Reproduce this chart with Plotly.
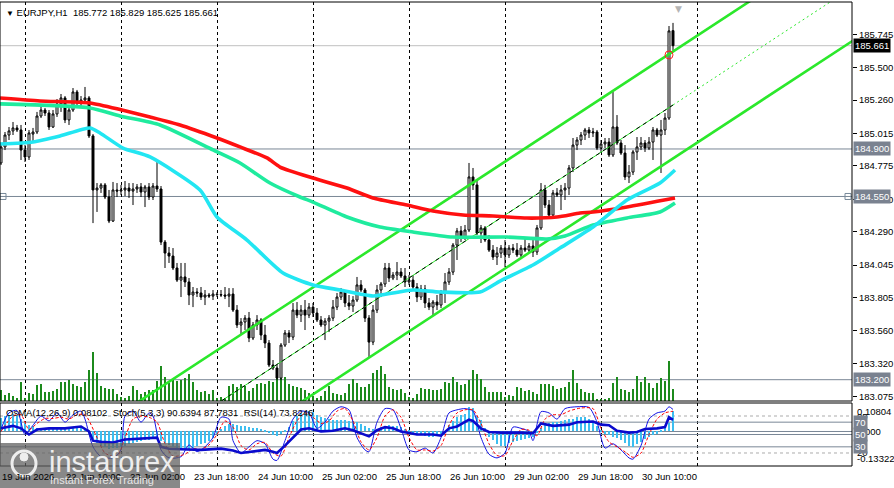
import plotly.graph_objects as go

# ---------------- DATA (EURJPY H1, bar 0 = 19 Jun 18:00) ----------------
opens = [184.797,184.915,185.003,185.033,185.055,185.040,184.892,184.841,185.010,185.025,
         185.143,185.187,185.165,185.062,185.158,185.232,185.276,185.114,185.187,185.320,
         185.239,185.261,185.276,184.996,184.598,184.612,184.635,184.546,184.369,184.598,
         184.590,184.598,184.612,184.590,184.605,184.620,184.583,184.620,184.546,184.627,
         184.605,184.214,184.133,184.111,184.023,183.934,183.957,183.920,183.824,183.846,
         183.839,183.809,183.824,183.816,183.831,183.827,183.824,183.816,183.831,183.713,
         183.603,183.625,183.654,183.507,183.603,183.640,183.529,183.470,183.308,183.286,
         183.212,183.455,183.544,183.514,183.713,183.676,183.713,183.676,183.735,183.691,
         183.640,183.603,183.632,183.654,183.735,183.809,183.846,183.765,183.743,183.787,
         183.898,183.861,183.654,183.477,183.713,183.861,183.905,184.023,183.949,183.971,
         183.993,183.964,183.920,183.934,183.883,183.809,183.868,183.765,183.735,183.772,
         183.750,183.839,183.920,183.993,184.192,184.296,184.251,184.303,184.694,184.635,
         184.281,184.318,184.229,184.155,184.104,184.133,184.170,184.119,184.170,184.155,
         184.119,184.170,184.155,184.185,184.141,184.318,184.598,184.487,184.413,184.576,
         184.561,184.598,184.612,184.760,184.929,184.966,185.003,185.040,185.018,185.025,
         184.907,184.937,184.951,184.856,185.062,184.944,184.870,184.694,184.730,184.878,
         184.915,184.944,184.907,184.951,185.040,185.003,185.040,185.128,185.772]
highs = [184.944,185.025,185.062,185.099,185.077,185.077,184.929,185.040,185.055,185.173,
         185.224,185.202,185.187,185.187,185.268,185.305,185.290,185.224,185.349,185.335,
         185.290,185.357,185.290,185.010,184.649,184.649,184.649,184.598,184.657,184.649,
         184.635,184.664,184.649,184.649,184.642,184.649,184.635,184.649,184.649,184.804,
         184.627,184.229,184.178,184.170,184.060,184.060,184.060,183.949,183.883,183.875,
         183.883,183.861,183.839,183.861,183.846,183.861,183.883,183.875,183.875,183.750,
         183.654,183.676,183.699,183.625,183.676,183.654,183.603,183.492,183.345,183.308,
         183.470,183.566,183.566,183.765,183.772,183.750,183.787,183.765,183.765,183.728,
         183.669,183.654,183.676,183.787,183.839,183.875,183.861,183.824,183.816,183.957,
         183.934,183.875,183.676,183.750,183.898,183.920,184.060,184.060,183.993,184.067,
         184.023,184.023,183.971,183.971,183.912,183.898,183.898,183.802,183.787,183.824,
         183.861,183.986,184.023,184.207,184.318,184.332,184.340,184.797,184.760,184.671,
         184.340,184.332,184.266,184.192,184.178,184.192,184.229,184.192,184.200,184.207,
         184.192,184.244,184.207,184.244,184.340,184.649,184.635,184.524,184.598,184.612,
         184.635,184.649,184.782,184.981,184.988,185.025,185.055,185.062,185.055,185.040,
         184.966,184.981,184.981,185.320,185.150,184.966,184.929,184.782,184.892,184.988,
         184.988,184.966,184.988,185.062,185.055,185.114,185.165,185.806,185.829]
lows = [184.782,184.892,184.966,185.003,185.025,184.819,184.804,184.819,184.951,185.010,
        185.128,185.143,185.040,185.055,185.136,185.173,185.091,185.077,185.173,185.224,
        185.202,185.232,184.981,184.354,184.436,184.576,184.531,184.354,184.362,184.546,
        184.561,184.553,184.539,184.487,184.576,184.546,184.472,184.524,184.524,184.583,
        184.192,184.023,184.060,184.008,183.920,183.809,183.883,183.750,183.735,183.809,
        183.787,183.750,183.802,183.787,183.809,183.809,183.794,183.735,183.699,183.581,
        183.529,183.566,183.477,183.492,183.566,183.492,183.433,183.293,183.271,183.197,
        183.197,183.441,183.470,183.492,183.654,183.625,183.566,183.654,183.662,183.625,
        183.588,183.492,183.551,183.632,183.713,183.787,183.735,183.713,183.699,183.772,
        183.846,183.625,183.367,183.455,183.691,183.809,183.883,183.920,183.934,183.934,
        183.949,183.883,183.898,183.861,183.772,183.787,183.728,183.713,183.676,183.713,
        183.728,183.765,183.898,183.971,184.082,184.214,184.229,184.288,184.598,184.266,
        184.207,184.214,184.141,184.082,184.045,184.097,184.030,184.097,184.133,184.104,
        184.104,184.141,184.133,184.104,184.119,184.303,184.465,184.399,184.399,184.546,
        184.450,184.524,184.561,184.730,184.892,184.929,184.966,184.981,184.988,184.892,
        184.878,184.907,184.841,184.841,184.929,184.856,184.671,184.649,184.708,184.819,
        184.892,184.878,184.892,184.819,184.988,184.723,185.003,185.114,185.625]
closes = [184.915,185.003,185.033,185.055,185.040,184.892,184.841,185.018,185.025,185.143,
          185.187,185.165,185.062,185.158,185.232,185.276,185.114,185.187,185.320,185.239,
          185.261,185.276,184.996,184.598,184.612,184.635,184.546,184.369,184.598,184.590,
          184.598,184.612,184.590,184.605,184.620,184.583,184.620,184.546,184.627,184.605,
          184.214,184.133,184.111,184.023,183.934,183.957,183.920,183.824,183.846,183.839,
          183.809,183.824,183.816,183.831,183.827,183.824,183.816,183.831,183.713,183.603,
          183.625,183.654,183.507,183.603,183.640,183.529,183.470,183.308,183.286,183.212,
          183.455,183.544,183.514,183.713,183.676,183.713,183.676,183.735,183.691,183.640,
          183.603,183.632,183.654,183.735,183.809,183.846,183.765,183.743,183.787,183.898,
          183.861,183.654,183.477,183.713,183.861,183.905,184.023,183.949,183.971,183.993,
          183.964,183.920,183.934,183.883,183.809,183.868,183.765,183.735,183.772,183.750,
          183.839,183.920,183.993,184.192,184.296,184.251,184.303,184.694,184.635,184.281,
          184.318,184.229,184.155,184.104,184.133,184.170,184.119,184.170,184.155,184.119,
          184.170,184.155,184.185,184.141,184.318,184.598,184.487,184.413,184.576,184.561,
          184.598,184.612,184.760,184.929,184.966,185.003,185.040,185.018,185.025,184.907,
          184.937,184.951,184.856,185.062,184.944,184.870,184.694,184.730,184.878,184.915,
          184.944,184.907,184.951,185.040,185.003,185.040,185.128,185.770,185.661]
volumes = [1070,570,830,500,330,1930,330,770,670,1600,
           1670,930,930,1000,1170,1930,1930,2070,1670,1500,
           1400,1930,3100,4900,2830,1500,1330,1170,1170,670,
           400,330,500,1500,1070,670,930,1070,1070,2000,
           3500,2400,1830,2170,2000,2070,2330,2730,1930,1070,
           930,1000,730,1070,330,400,270,1500,1730,1400,
           1730,1500,1000,1270,1670,1830,1730,2000,1870,2400,
           2930,2400,1670,1500,1400,1270,1070,830,500,330,
           500,1000,1500,830,730,600,830,1670,2170,1830,
           1400,1400,1670,2830,3070,3500,2730,1400,1170,1070,
           1170,830,400,330,670,1270,1170,1170,1070,1070,
           1170,1930,1830,2400,1930,1600,1730,2070,3070,2730,
           2170,1400,930,930,930,930,400,600,500,1400,
           1270,1000,1070,930,730,1670,1730,1670,1500,1170,
           1270,1400,1930,3100,1830,1170,930,830,830,230,
           170,230,330,1830,2400,1170,1070,930,1170,2500,
           1930,2400,1830,1270,1830,2270,2000,4000,1170]
osma = [0.052,0.060,0.066,0.068,0.062,0.048,0.034,0.026,0.020,0.015,
        0.012,0.012,0.010,0.011,0.013,0.016,0.014,0.014,0.016,0.015,
        0.014,0.014,-0.005,-0.030,-0.045,-0.055,-0.062,-0.068,-0.066,-0.064,
        -0.060,-0.055,-0.050,-0.046,-0.042,-0.038,-0.035,-0.032,-0.030,-0.028,
        -0.036,-0.045,-0.053,-0.060,-0.066,-0.070,-0.070,-0.068,-0.064,-0.058,
        -0.050,-0.043,-0.036,-0.024,-0.008,0.008,0.020,0.028,0.030,0.026,
        0.022,0.020,0.016,0.014,0.012,0.008,0.002,-0.006,-0.012,-0.016,
        -0.010,0.002,0.018,0.040,0.060,0.072,0.080,0.080,0.075,0.066,
        0.058,0.052,0.048,0.046,0.045,0.044,0.043,0.042,0.040,0.036,
        0.030,0.022,0.012,0.008,0.010,0.016,0.022,0.024,0.022,0.020,
        0.016,0.010,0.003,-0.004,-0.010,-0.014,-0.018,-0.020,-0.020,-0.018,
        -0.012,-0.004,0.025,0.040,0.058,0.064,0.070,0.095,0.090,0.060,
        0.045,0.015,-0.020,-0.035,-0.050,-0.058,-0.055,-0.045,-0.040,-0.037,
        -0.033,-0.030,-0.027,-0.020,-0.005,0.015,0.025,0.035,0.038,0.038,
        0.040,0.045,0.047,0.050,0.056,0.058,0.055,0.050,0.040,0.020,
        0.003,-0.010,-0.015,-0.020,-0.027,-0.035,-0.045,-0.055,-0.060,-0.050,
        -0.040,-0.030,-0.020,-0.015,-0.008,0.005,0.012,0.035,0.081]
bar_idx = list(range(len(closes)))

# moving averages (bar index, price)
ma_red_x = [-0.25,9.75,22.25,30.25,37.25,44.75,54,59.75,66.5,69.75,78,86.5,93,101.5,108,115.5,123,131.5,139,144.75,148,156.5,168.5]
ma_red_y = [185.276,185.254,185.239,185.187,185.136,185.077,184.981,184.915,184.834,184.767,184.686,184.612,184.539,184.487,184.443,184.414,184.406,184.391,184.399,184.428,184.436,184.473,184.539]
ma_teal_x = [-0.25,22.25,29.75,39.75,53,59.75,67.25,74.75,78,86.5,94.75,103,113,126.5,136.5,141,148,156.5,164.75,168.5]
ma_teal_y = [185.232,185.202,185.143,185.077,184.893,184.797,184.649,184.546,184.509,184.399,184.325,184.288,184.251,184.251,184.237,184.259,184.340,184.392,184.436,184.502]
ma_cyan_x = [-0.25,8,14.75,22.25,24.75,30.5,37.25,49.75,54,61.5,70.5,78,84.75,93,98,103,109.75,119.75,124.75,133,139.75,148,156.5,164.75,168.5]
ma_cyan_y = [184.937,184.952,184.996,185.055,185.018,184.907,184.841,184.598,184.399,184.229,183.986,183.898,183.861,183.817,183.839,183.861,183.846,183.846,183.927,184.045,184.170,184.325,184.524,184.649,184.745]

# regression channel
chan_x = [20, 213]
chan_upper = [182.760, 186.487]
chan_lower = [181.972, 185.699]
chan_mid_x = [20, 168]
chan_mid = [182.366, 185.224]
chan_ext_x = [168, 213]
chan_ext = [185.224, 186.093]

# horizontal levels
levels = [185.661, 184.900, 184.550, 183.200]

# Stochastic(5,3,3) main / signal and RSI(14)
sto_x = [0,2,4,6,8,10,12,14,16,18,20,21,23,25,28,30,31,33,35,37,38,40,42,45,47,49,51,53,55,57,58,60,62,64,66,68,69,71,73,75,77,79,81,83,85,87,89,91,92,94,96,98,100,102,104,106,108,110,112,114,116,118,120,122,124,126,128,130,132,133,135,137,139,141,144,147,149,151,153,155,157,158,160,162,164,166,167,168]
sto_v = [59,85,89,50,65,80,72,85,70,82,88,75,30,14,12,25,80,88,70,85,80,25,12,14,33,22,30,45,78,75,40,20,30,40,35,10,8,40,75,88,85,60,70,88,95,90,45,25,22,70,92,90,60,25,22,28,20,45,85,90,92,88,45,18,12,20,62,60,55,40,87,85,75,92,95,94,70,28,35,25,12,10,32,75,85,88,95,90.6394]
sig_x = [0,3,5,7,9,11,13,15,17,19,21,24,26,29,31,33,35,37,39,41,43,46,48,50,52,54,56,58,60,62,64,66,68,70,72,74,76,78,80,82,84,86,88,90,92,94,96,98,100,102,104,106,108,110,112,114,116,118,120,122,124,126,128,130,132,134,136,138,140,142,145,148,150,152,154,156,158,160,162,164,166,168]
sig_v = [55,80,82,58,68,76,76,78,75,82,82,45,20,14,45,75,80,78,70,35,15,18,27,26,33,50,72,62,32,25,35,37,20,15,45,72,85,78,68,72,88,92,72,38,25,45,80,90,78,45,25,25,23,32,65,85,90,90,68,35,16,16,40,58,57,48,75,82,82,88,93,92,60,38,30,22,13,20,50,75,85,87.7831]
rsi_x = [0,3,5,7,9,12,16,20,22,23,25,28,31,35,38,39,40,42,45,50,55,58,60,62,64,66,68,69,71,73,75,77,80,83,86,88,90,92,94,96,98,100,104,108,110,112,114,117,118,120,122,125,130,133,135,138,142,144,148,150,152,154,157,159,161,164,166,167,168]
rsi_v = [60,64,60,50,58,60,60,63,55,40,38,37,42,43,44,45,30,27,26,25,27,24,20,22,24,25,22,20,32,45,58,60,55,56,60,57,52,47,57,62,60,55,50,50,48,60,63,74,72,60,54,53,53,52,68,64,66,70,71,66,65,56,53,54,59,60,62,78,73.8246]
sto_levels = [80, 70, 50, 30, 20]

# axis labels
price_ticks = [185.745,185.500,185.260,185.015,184.775,184.530,184.290,184.045,183.805,183.560,183.320,183.075]
day_idx = [6, 30, 54, 78, 102, 126, 150, 174]
date_idx = [0, 16, 32, 48, 64, 80, 96, 112, 128, 144, 160]
date_txt = ["19 Jun 2026", "22 Jun 10:00", "23 Jun 02:00", "23 Jun 18:00", "24 Jun 10:00",
            "25 Jun 02:00", "25 Jun 18:00", "26 Jun 10:00", "29 Jun 02:00", "29 Jun 18:00", "30 Jun 10:00"]
title_txt = "EURJPY,H1  185.772 185.829 185.625 185.661"
ind_txt = "OsMA(12,26,9) 0.08102  Stoch(5,3,3) 90.6394 87.7831  RSI(14) 73.8246"

# ---------------- FIGURE ----------------
FONT = "Liberation Sans, Arial, sans-serif"
W, H = 894, 488
ML, MR, MT, MB = 0, 42, 2, 22
PH = H - MT - MB
main_bottom = (H - MB - 401) / PH
ind_top = (H - MB - 403) / PH

fig = go.Figure()

# volumes (base axis of main panel)
fig.add_trace(go.Bar(x=bar_idx, y=volumes, width=0.38, marker=dict(color="#1C8A1C", line_width=0),
                     xaxis="x", yaxis="y", showlegend=False, hoverinfo="skip"))

# channel
fig.add_trace(go.Scatter(x=chan_x, y=chan_upper, mode="lines", line=dict(color="#2BE82B", width=2.6),
                         xaxis="x", yaxis="y2", showlegend=False))
fig.add_trace(go.Scatter(x=chan_x, y=chan_lower, mode="lines", line=dict(color="#2BE82B", width=2.6),
                         xaxis="x", yaxis="y2", showlegend=False))
fig.add_trace(go.Scatter(x=chan_mid_x, y=chan_mid, mode="lines", line=dict(color="#2BE82B", width=1),
                         xaxis="x", yaxis="y2", showlegend=False))
fig.add_trace(go.Scatter(x=chan_mid_x, y=chan_mid, mode="lines", line=dict(color="#000000", width=1, dash="4px,4px"),
                         xaxis="x", yaxis="y2", showlegend=False))
fig.add_trace(go.Scatter(x=chan_ext_x, y=chan_ext, mode="lines", line=dict(color="#2BE82B", width=1, dash="2px,3px"),
                         xaxis="x", yaxis="y2", showlegend=False))

# moving averages
for mx, my, col in [(ma_red_x, ma_red_y, "#FF1010"), (ma_teal_x, ma_teal_y, "#1FEB9E"), (ma_cyan_x, ma_cyan_y, "#22E6F2")]:
    fig.add_trace(go.Scatter(x=mx, y=my, mode="lines", line=dict(color=col, width=3.6, shape="spline", smoothing=0.6),
                             xaxis="x", yaxis="y2", showlegend=False))

# candles
fig.add_trace(go.Candlestick(x=bar_idx, open=opens, high=highs, low=lows, close=closes,
                             increasing=dict(line=dict(color="black", width=1), fillcolor="white"),
                             decreasing=dict(line=dict(color="black", width=1), fillcolor="black"),
                             whiskerwidth=0, xaxis="x", yaxis="y2", showlegend=False))

# touch marker and line handles
fig.add_trace(go.Scatter(x=[167], y=[185.593], mode="markers",
                         marker=dict(symbol="circle-open", size=8, color="#FF2020", line=dict(width=1)),
                         xaxis="x", yaxis="y2", showlegend=False))
fig.add_trace(go.Scatter(x=[0.5, 211.75], y=[levels[2], levels[2]], mode="markers",
                         marker=dict(symbol="square-open", size=6, color="#778899", line=dict(width=1)),
                         xaxis="x", yaxis="y2", showlegend=False))

# indicator window
fig.add_trace(go.Bar(x=bar_idx, y=osma, width=0.55, marker=dict(color="#3DBEF0", line_width=0),
                     xaxis="x2", yaxis="y3", showlegend=False))
fig.add_trace(go.Scatter(x=sto_x, y=sto_v, mode="lines", line=dict(color="#1515E6", width=1, shape="spline", smoothing=0.7),
                         xaxis="x2", yaxis="y4", showlegend=False))
fig.add_trace(go.Scatter(x=sig_x, y=sig_v, mode="lines", line=dict(color="#FF0000", width=1, dash="3px,2px", shape="spline", smoothing=0.7),
                         xaxis="x2", yaxis="y4", showlegend=False))
fig.add_trace(go.Scatter(x=rsi_x, y=rsi_v, mode="lines", line=dict(color="#0A0ACD", width=2.6),
                         xaxis="x2", yaxis="y4", showlegend=False))

shapes = []
# level lines main
for lv in levels:
    shapes.append(dict(type="line", xref="paper", x0=0, x1=1, yref="y2", y0=lv, y1=lv,
                       line=dict(color="#C0C0C0" if lv == levels[0] else "#7A8796", width=1), layer="below"))
# day separators (offset by half a pixel for crisp dashes)
for d in day_idx:
    for (a, b) in [(main_bottom, 1), (0, ind_top)]:
        shapes.append(dict(type="line", xref="x", x0=d + 0.125, x1=d + 0.125, yref="paper", y0=a, y1=b,
                           line=dict(color="black", width=1, dash="3px,3px"), layer="below"))
# indicator levels
for lv in sto_levels:
    dashed = lv in (80, 20)
    shapes.append(dict(type="line", xref="paper", x0=0, x1=1, yref="y4", y0=lv, y1=lv,
                       line=dict(color="#ABABAB" if dashed else "#7A8796", width=1, dash="3px,3px" if dashed else "solid"),
                       layer="below"))
shapes.append(dict(type="line", xref="paper", x0=0, x1=1, yref="y3", y0=0, y1=0,
                   line=dict(color="#7A8796", width=1), layer="below"))
# panel frames
shapes.append(dict(type="rect", xref="paper", yref="paper", x0=0, x1=1, y0=main_bottom, y1=1,
                   line=dict(color="black", width=1)))
shapes.append(dict(type="rect", xref="paper", yref="paper", x0=0, x1=1, y0=0, y1=ind_top,
                   line=dict(color="black", width=1)))
# watermark block
pw = W - ML - MR
def px(xp): return xp / pw
def py(yp): return (H - MB - yp) / PH
shapes.append(dict(type="rect", xref="paper", yref="paper", x0=px(0), x1=px(180), y0=py(488), y1=py(443),
                   fillcolor="rgba(95,95,95,0.74)", line=dict(width=0), layer="above"))
shapes.append(dict(type="circle", xref="paper", yref="paper", x0=px(12), x1=px(36), y0=py(476), y1=py(451),
                   line=dict(color="#EEEEEE", width=3), layer="above"))
shapes.append(dict(type="circle", xref="paper", yref="paper", x0=px(20), x1=px(28), y0=py(461), y1=py(453),
                   fillcolor="#EEEEEE", line=dict(color="#EEEEEE", width=1), layer="above"))

ann = []
ann.append(dict(xref="paper", yref="paper", x=0, y=1, xanchor="left", yanchor="top", xshift=4, yshift=-3,
                text="<span style='font-size:8px'>▼</span> " + title_txt, showarrow=False,
                font=dict(family=FONT, size=9.5, color="black")))
ann.append(dict(xref="paper", yref="paper", x=0, y=ind_top, xanchor="left", yanchor="top", xshift=4, yshift=-2,
                text=ind_txt, showarrow=False, font=dict(family=FONT, size=9.5, color="black")))
ann.append(dict(xref="x", yref="paper", x=169.25, y=1, xanchor="center", yanchor="top", yshift=0,
                text="▼", showarrow=False, font=dict(family="DejaVu Sans", size=9, color="#B4B4B4")))
for di, dt in zip(date_idx, date_txt):
    ann.append(dict(xref="x", yref="paper", x=di - 0.25, y=0, xanchor="left", yanchor="top", yshift=-3,
                    text=dt, showarrow=False, font=dict(family=FONT, size=9.5, color="black")))
# indicator scale labels
for txt, yr, yv, anc in [("0.10804", "y3", 0.10804, "top"), ("80", "y4", 80, "middle"),
                         ("0.000", "y3", 0.0, "middle"), ("20", "y4", 20, "middle"),
                         ("-0.13322", "y3", -0.13322, "bottom")]:
    ann.append(dict(xref="paper", yref=yr, x=1, y=yv, xanchor="left", yanchor=anc, xshift=3,
                    text=txt, showarrow=False, font=dict(family=FONT, size=9.5, color="black")))
for lv in (70, 50, 30):
    ann.append(dict(xref="paper", yref="y4", x=1, y=lv, xanchor="left", yanchor="middle", xshift=1,
                    text=str(lv), showarrow=False, bgcolor="#7A8290", borderpad=1,
                    font=dict(family=FONT, size=9.5, color="white")))
# price marker boxes
for lv in levels:
    ann.append(dict(xref="paper", yref="y2", x=1, y=lv, xanchor="left", yanchor="middle", xshift=1,
                    text=f"{lv:.3f}", showarrow=False, borderpad=1,
                    bgcolor="#000000" if lv == levels[0] else "#7A8290",
                    font=dict(family=FONT, size=9.5, color="white")))
# watermark text
ann.append(dict(xref="paper", yref="paper", x=px(47), y=py(462), xanchor="left", yanchor="middle",
                text="instaforex", showarrow=False, font=dict(family=FONT, size=29, color="#EEEEEE")))
ann.append(dict(xref="paper", yref="paper", x=px(48), y=py(480), xanchor="left", yanchor="middle",
                text="Instant Forex Trading", showarrow=False, font=dict(family=FONT, size=11, color="#E6E6E6")))

xr = [-0.25, 212.75]
fig.update_layout(
    width=W, height=H, margin=dict(l=ML, r=MR, t=MT, b=MB),
    paper_bgcolor="white", plot_bgcolor="white", showlegend=False,
    font=dict(family=FONT, size=9.5, color="black"),
    xaxis=dict(domain=[0, 1], range=xr, anchor="y", showticklabels=False, showgrid=False, zeroline=False,
               rangeslider=dict(visible=False), ticks=""),
    yaxis=dict(domain=[main_bottom, 1], range=[0, 39900], visible=False, fixedrange=True),
    yaxis2=dict(overlaying="y", anchor="x", side="right", range=[183.043, 185.983],
                tickvals=price_ticks, tickformat=".3f", ticks="outside", ticklen=4, tickcolor="black",
                showgrid=False, zeroline=False, showline=False, tickfont=dict(family=FONT, size=9.5, color="black")),
    xaxis2=dict(domain=[0, 1], range=xr, anchor="y3", matches="x", showticklabels=False, showgrid=False,
                zeroline=False, ticks="", rangeslider=dict(visible=False)),
    yaxis3=dict(domain=[0, ind_top], range=[-0.1343, 0.1109], anchor="x2", visible=False),
    yaxis4=dict(overlaying="y3", anchor="x2", range=[-1.1, 101.1], visible=False),
    shapes=shapes, annotations=ann, bargap=0,
)

fig.write_html("out.html")
